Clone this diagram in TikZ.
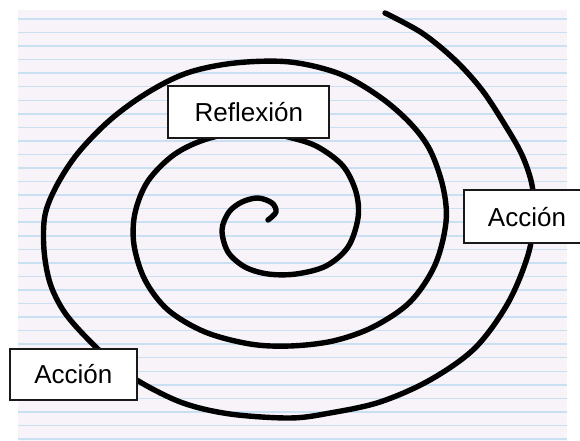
\documentclass[tikz,border=0pt]{standalone}
\usepackage{fontspec}
\setmainfont{Liberation Sans}
\definecolor{paper}{HTML}{F7F3F8}
\definecolor{ruleblue}{HTML}{C8E0F2}
\tikzset{
  lbl style/.style={rectangle, draw=black!90, line width=1bp, fill=white,
    minimum width=63.5bp, minimum height=26bp, inner sep=0pt,
    font=\fontsize{13bp}{15bp}\selectfont},
  spiral style/.style={line width=2.7bp, line cap=round, line join=round},
  rule style/.style={draw=ruleblue, line width=0.75bp}
}
\begin{document}
\begin{tikzpicture}[x=0.5bp, y=-0.5bp]
\useasboundingbox (0,0) rectangle (580,441);
\clip (0,0) rectangle (580,441);
% lined paper
\fill[paper] (17.7,10) rectangle (566.7,441);
\foreach \k in {0,...,31}
  \draw[rule style] (17.7,19+13.55*\k) -- (566.7,19+13.55*\k);
% spiral, from the inner hook outwards
\draw[spiral style] plot[smooth, tension=0.55] coordinates {
  (268,220) (276,212) (272,203) (258,198) (242,202) (229,212) (222,230)
  (228,252) (245,267) (268,274) (296,274) (326,266) (348,247) (358,218)
  (356,192) (343,166) (318,147) (292,138) (255,131) (210,138) (175,154)
  (148,181) (135,213) (134,245) (145,280) (168,310) (205,332) (250,344)
  (290,346) (333,341) (373,327) (410,302) (435,265) (446,222) (443,187)
  (430,150) (410,123) (380,97) (340,74) (290,62) (235,63) (187,73)
  (147,93) (110,120) (78,153) (57,185) (45,215) (44,250) (50,283)
  (63,310) (82,333) (110,360) (140,382) (183,403) (230,414) (290,418)
  (330,413) (380,402) (430,380) (475,348) (508,303) (528,255) (534,217)
  (532,185) (522,155) (505,125) (482,90) (455,60) (422,33) (385,13)};
% labels
\node[lbl style, minimum width=80.6bp] (reflexion) at (248.8,112) {Reflexión};
\node[lbl style, minimum height=26.5bp] (accion right) at (527,217) {Acción};
\node[lbl style, minimum height=25.5bp] (accion left) at (73.3,374.2) {Acción};
\end{tikzpicture}
\end{document}
